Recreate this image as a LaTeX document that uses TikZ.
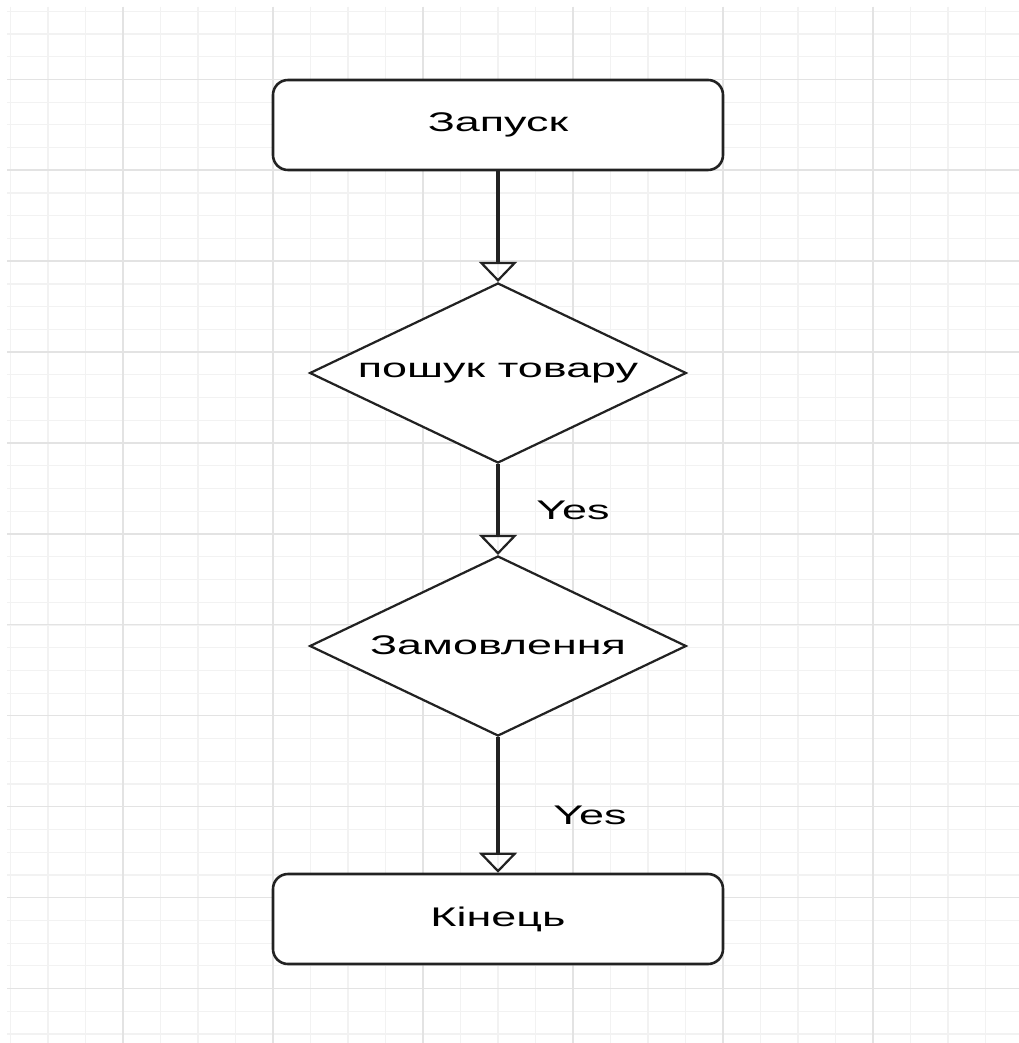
\documentclass[tikz,border=0pt]{standalone}
\usepackage{fontspec}
\setmainfont{Liberation Sans}
\newfontfamily\flowfont[FakeStretch=1.667]{Liberation Sans}
\usetikzlibrary{shapes.geometric,arrows.meta}
\definecolor{gridminor}{HTML}{F2F2F2}
\definecolor{gridmajor}{HTML}{E3E3E3}
\definecolor{ink}{HTML}{222222}
\begin{document}
\begin{tikzpicture}[x=0.03cm,y=-0.03cm]
        \tikzstyle{terminal}=[rectangle,rounded corners=0.45cm,draw=ink,line width=2.2pt,fill=white,minimum width=13.5cm,minimum height=2.7cm,font=\flowfont\fontsize{23}{27}\selectfont]
        \tikzstyle{decision}=[diamond,aspect=2.09,draw=ink,line width=1.9pt,fill=white,inner sep=0pt,minimum width=11.3cm,minimum height=5.4cm,font=\flowfont\fontsize{23}{27}\selectfont]
        \tikzstyle{flow}=[draw=ink,line width=3pt,-{Triangle[open,length=0.6cm,width=1.14cm,line width=1.9pt]}]
        \tikzstyle{answer}=[font=\flowfont\fontsize{23}{27}\selectfont]
        \useasboundingbox (0,0) rectangle (1019,1043);
        \fill[white] (0,0) rectangle (1019,1043);
       % background grid
       \begin{scope}
         \clip (7,7) rectangle (1019,1043);
         \foreach \i in {0,...,27}
           \draw[gridminor,line width=1pt] ({10.5+37.5*\i},7) -- ({10.5+37.5*\i},1043);
         \foreach \j in {0,...,45}
           \draw[gridminor,line width=1pt] (7,{11.2+22.73*\j}) -- (1019,{11.2+22.73*\j});
         \foreach \i in {0,...,5}
           \draw[gridmajor,line width=1.2pt] ({123+150*\i},7) -- ({123+150*\i},1043);
         \foreach \j in {0,...,10}
           \draw[gridmajor,line width=1.2pt] (7,{79.3+90.9*\j}) -- (1019,{79.3+90.9*\j});
        \end{scope}
       % flowchart
       \begin{scope}
         \node [terminal] (start) at (498,125) {\raisebox{-2pt}{Запуск}};
         \node [decision] (search) at (498,373) {пошук товару};
         \node [decision] (order) at (498,646) {\raisebox{2pt}{Замовлення}};
         \node [terminal] (finish) at (498,919) {Кінець};
         \node [answer] (yes1) at (573,510) {Yes};
         \node [answer] (yes2) at (590,815) {Yes};
         \path[flow] (start) -- (search);
         \path[flow] (search) -- (order);
         \path[flow] (order) -- (finish);
        \end{scope}
      \end{tikzpicture}
\end{document}
